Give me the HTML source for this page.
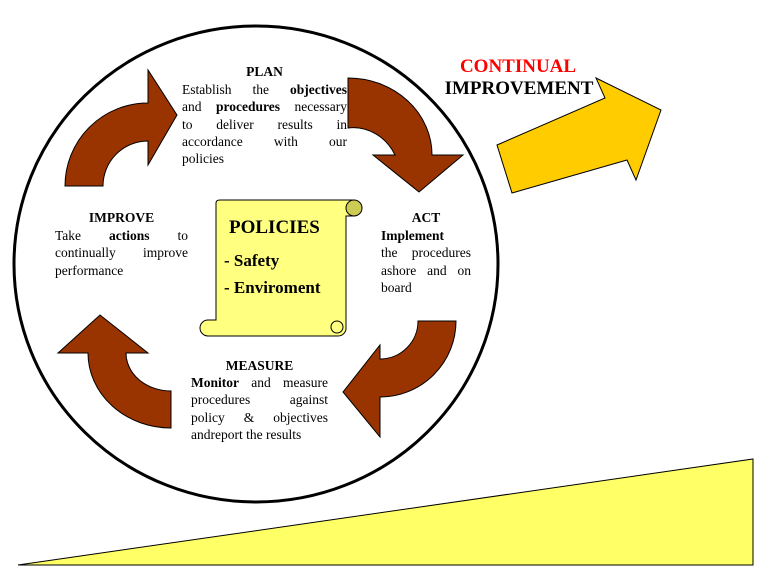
<!DOCTYPE html>
<html><head><style>
body{margin:0;width:767px;height:586px;background:#fff;position:relative;overflow:hidden;font-family:"Liberation Serif",serif;}
.t{position:absolute;font-size:13.5px;line-height:17.3px;color:#000}
.t span{display:block;text-align:justify;text-align-last:justify;white-space:nowrap}
.t span.l{text-align-last:left}
.h{position:absolute;font-size:13.5px;line-height:17.3px;text-align:center;font-weight:bold}
b{font-weight:bold}
</style></head><body>
<svg width="767" height="586" style="position:absolute;left:0;top:0">
<ellipse cx="256" cy="264" rx="242" ry="238" fill="none" stroke="#000" stroke-width="3"/>
<g fill="#993300" stroke="#000" stroke-width="1">
<path d="M65,186 A83,83 0 0 1 148,103 L148,70 L177,115 L148,165 L148,141 A45,45 0 0 0 103,186 Z"/>
<path d="M348,78 A84,77 0 0 1 432,155 L463,155 L419,192 L373,155 L395,155 A47,50 0 0 0 348,128 Z"/>
<path d="M456,321 A76,76 0 0 1 380,397 L380,437 L343,392 L380,345 L380,359 A38,38 0 0 0 418,321 Z"/>
<path d="M171,428 A83,75 0 0 1 88,353 L58,353 L100,315 L148,353 L126,353 A45,38 0 0 0 171,391 Z"/>
</g>
<g stroke="#000" stroke-width="1">
<path d="M216,203 Q216,200 220,200 L352,200 A8,8 0 0 1 352,216 L346,216 L346,327 A8,8 0 0 1 338,336 L208,336 A8,8 0 0 1 208,320 L216,320 Z" fill="#ffff80"/>
<circle cx="354" cy="208" r="8" fill="#cccc55"/>
<circle cx="337" cy="327" r="6" fill="#ffff80"/>
</g>
<polygon points="497,145 605,98 596,78 661,110 636,180 627,160 512,193" fill="#ffcc00" stroke="#000"/>
<polygon points="18,565 753,459 753,565" fill="#ffff66" stroke="#000"/>
</svg>
<div class="h" style="left:182px;top:63px;width:165px">PLAN</div>
<div class="t" style="left:182px;top:81px;width:165px"><span>Establish the <b>objectives</b></span><span>and <b>procedures</b> necessary</span><span>to deliver results in</span><span>accordance with our</span><span class="l">policies</span></div>
<div class="h" style="left:55px;top:209px;width:133px">IMPROVE</div>
<div class="t" style="left:55px;top:227px;width:133px"><span>Take <b>actions</b> to</span><span>continually improve</span><span class="l">performance</span></div>
<div class="h" style="left:381px;top:209px;width:90px">ACT</div>
<div class="t" style="left:381px;top:227px;width:90px"><span class="l"><b>Implement</b></span><span>the procedures</span><span>ashore and on</span><span class="l">board</span></div>
<div class="h" style="left:191px;top:357px;width:137px">MEASURE</div>
<div class="t" style="left:191px;top:374px;width:137px"><span><b>Monitor</b> and measure</span><span>procedures against</span><span>policy &amp; objectives</span><span class="l">andreport the results</span></div>
<div style="position:absolute;left:229px;top:217px;font-size:19px;font-weight:bold">POLICIES</div>
<div style="position:absolute;left:224px;top:251px;font-size:17px;font-weight:bold">- Safety</div>
<div style="position:absolute;left:224px;top:278px;font-size:17px;font-weight:bold">- Enviroment</div>
<div style="position:absolute;left:438px;top:56px;width:160px;text-align:center;font-size:19px;font-weight:bold;color:#ff0000">CONTINUAL</div>
<div style="position:absolute;left:429px;top:78px;width:180px;text-align:center;font-size:19px;font-weight:bold">IMPROVEMENT</div>
</body></html>
